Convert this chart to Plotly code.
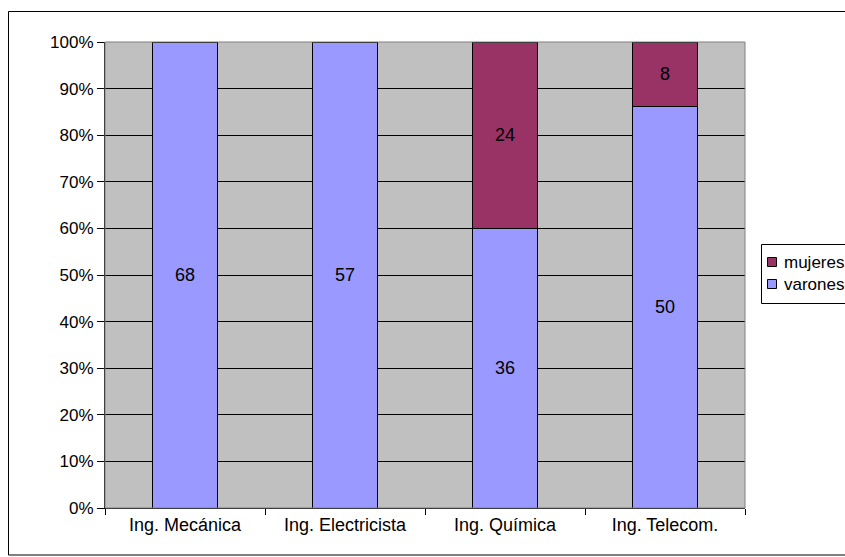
import plotly.graph_objects as go

categories = ["Ing. Mecánica", "Ing. Electricista", "Ing. Química", "Ing. Telecom."]
varones = [68, 57, 36, 50]
mujeres = [0, 0, 24, 8]
y_ticks = [0, 10, 20, 30, 40, 50, 60, 70, 80, 90, 100]
legend_names = ["mujeres", "varones"]
legend_colors = ["#993366", "#9999FF"]

W, H = 845, 557
L, R, T, B = 105, 100, 42, 49
pw, ph = W - L - R, H - T - B


def px(x):
    return (x - L) / pw


def py(y):
    return (H - B - y) / ph


font = dict(family="Liberation Sans, Arial, sans-serif", size=18, color="black")
tick_font = dict(family="Liberation Sans, Arial, sans-serif", size=17, color="black")
legend_font = dict(family="Liberation Sans, Arial, sans-serif", size=17, color="black")

fig = go.Figure()
fig.add_trace(go.Bar(
    x=categories, y=varones, name="varones",
    marker=dict(color="#9999FF", line=dict(color="black", width=1)),
    text=[str(v) if v else "" for v in varones],
    textposition="inside", insidetextanchor="middle", textangle=0,
    constraintext="none", textfont=font, hoverinfo="skip", showlegend=False,
))
fig.add_trace(go.Bar(
    x=categories, y=mujeres, name="mujeres",
    marker=dict(color="#993366", line=dict(color="black", width=1)),
    text=[str(v) if v else "" for v in mujeres],
    textposition="inside", insidetextanchor="middle", textangle=0,
    constraintext="none", textfont=font, hoverinfo="skip", showlegend=False,
))

shapes = [
    dict(type="rect", xref="paper", yref="paper", x0=0, x1=1, y0=0, y1=1,
         line=dict(color="#808080", width=1), layer="above"),
    dict(type="rect", xref="paper", yref="paper",
         x0=px(8.5), x1=px(870), y0=py(555), y1=py(11.5),
         line=dict(color="black", width=1), layer="above"),
    # legend box
    dict(type="rect", xref="paper", yref="paper",
         x0=px(761.5), x1=px(870), y0=py(303.5), y1=py(244.5),
         line=dict(color="black", width=1), fillcolor="white", layer="above"),
]
annotations = []
for i, (name, col) in enumerate(zip(legend_names, legend_colors)):
    cy = 262 + 22 * i
    shapes.append(dict(type="rect", xref="paper", yref="paper",
                       x0=px(767.5), x1=px(776.5), y0=py(cy + 4.5), y1=py(cy - 4.5),
                       line=dict(color="black", width=1), fillcolor=col, layer="above"))
    annotations.append(dict(text=name, xref="paper", yref="paper", x=px(782), y=py(cy),
                            xanchor="left", yanchor="middle", showarrow=False,
                            font=legend_font))

fig.update_layout(
    width=W, height=H,
    margin=dict(l=L, r=R, t=T, b=B, pad=0, autoexpand=False),
    barmode="stack", barnorm="percent", bargap=1 - 0.406,
    paper_bgcolor="white", plot_bgcolor="#C0C0C0",
    font=font,
    showlegend=False,
    hovermode=False,
    xaxis=dict(
        showgrid=False, ticks="outside", tickson="boundaries", ticklen=6,
        tickcolor="black", showline=True, linecolor="black", linewidth=1,
        tickfont=font, fixedrange=True,
    ),
    yaxis=dict(
        range=[0, 100], tickvals=y_ticks, ticktext=[f"{v}%" for v in y_ticks],
        showgrid=True, gridcolor="black", gridwidth=1,
        ticks="outside", ticklen=7, tickcolor="black",
        showline=True, linecolor="black", linewidth=1,
        zeroline=False, tickfont=tick_font, fixedrange=True,
    ),
    shapes=shapes,
    annotations=annotations,
)

fig.write_html("out.html", config={"displayModeBar": False},
               post_script="document.body.style.margin='0';")
